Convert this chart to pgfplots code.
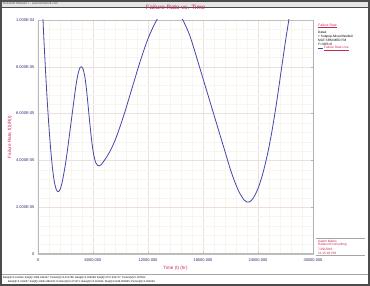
\documentclass[border=0pt]{standalone}
\usepackage{pgfplots}
\pgfplotsset{compat=1.18}
\usepackage{fontspec}
\setmainfont{Liberation Sans}
\definecolor{crim}{RGB}{200,40,80}
\definecolor{curve}{RGB}{70,70,170}
\definecolor{tickc}{RGB}{40,40,110}
\definecolor{gmaj}{RGB}{238,222,222}
\definecolor{gmin}{RGB}{249,245,236}
\newcommand{\fs}[1]{\fontsize{#1}{#1}\selectfont}
\begin{document}
\begin{tikzpicture}
\useasboundingbox (0,0) rectangle (370pt,286pt);
% frame
\fill[white] (0,0) rectangle (370pt,286pt);
\fill[gray!20] (0,279pt) rectangle (370pt,286pt);
\node[anchor=west,inner sep=0pt,text=black!70] at (3pt,282.5pt) {\fs{3}ReliaSoft Weibull++ - www.ReliaSoft.com};
\draw[black!70,line width=0.6pt] (0,279pt) -- (370pt,279pt);
\begin{axis}[
  at={(38pt,32pt)}, anchor=south west,
  scale only axis, width=275pt, height=234pt,
  xmin=0, xmax=30000, ymin=0, ymax=1e-4,
  scaled ticks=false,
  xtick={0,6000,12000,18000,24000,30000},
  xticklabels={0,6000.000,12000.000,18000.000,24000.000,30000.000},
  ytick={0,2e-5,4e-5,6e-5,8e-5,1e-4},
  yticklabels={0,2.000E-05,4.000E-05,6.000E-05,8.000E-05,1.000E-04},
  minor x tick num=4, minor y tick num=4,
  grid=both,
  major grid style={draw=gmaj,line width=0.4pt},
  minor grid style={draw=gmin,line width=0.3pt},
  axis line style={draw=gray!50,line width=0.4pt},
  tick style={draw=gray!60},
  major tick length=1.5pt, minor tick length=0pt,
  tick label style={font=\fs{4},text=tickc},
  xticklabel style={yshift=-1pt},
  title={\fs{6.2}\textcolor{crim}{Failure Rate vs. Time}},
  title style={at={(0.5,1)},anchor=south,yshift=1pt},
  xlabel={\fs{4.6}\textcolor{crim}{Time (t) (hr)}},
  ylabel={\fs{4.6}\textcolor{crim}{Failure Rate, f(t)/R(t)}},
  xlabel style={yshift=2pt},
  ylabel style={yshift=-3pt},
  clip=true,
]
\addplot[curve,line width=0.8pt,smooth,tension=0.5] coordinates {
(380,1.25e-4)(550,1.0e-4)(800,8.0e-5)(1000,6.6e-5)(1200,5.4e-5)(1400,4.4e-5)
(1600,3.6e-5)(1800,3.05e-5)(2000,2.75e-5)(2200,2.66e-5)(2400,2.75e-5)(2600,3.0e-5)
(2800,3.4e-5)(3000,3.85e-5)(3200,4.4e-5)(3400,5.0e-5)(3600,5.6e-5)(3800,6.2e-5)
(4000,6.8e-5)(4200,7.35e-5)(4400,7.75e-5)(4600,7.98e-5)(4750,8.0e-5)(4900,7.93e-5)
(5100,7.6e-5)(5300,7.0e-5)(5500,6.2e-5)(5700,5.4e-5)(5900,4.7e-5)(6100,4.2e-5)
(6300,3.9e-5)(6500,3.79e-5)(6700,3.77e-5)(6900,3.82e-5)(7200,3.98e-5)(7500,4.15e-5)
(8000,4.5e-5)(8500,4.95e-5)(9000,5.5e-5)(9500,6.1e-5)(10000,6.75e-5)(10500,7.4e-5)
(11000,8.05e-5)(11500,8.65e-5)(12000,9.2e-5)(12500,9.65e-5)(13000,1.003e-4)
(13500,1.03e-4)(14000,1.045e-4)(14500,1.05e-4)(15000,1.04e-4)(15500,1.015e-4)
(15800,1.0e-4)(16500,9.4e-5)(17000,8.8e-5)(17500,8.15e-5)(18000,7.5e-5)
(18500,6.85e-5)(19000,6.2e-5)(19500,5.55e-5)(20000,4.9e-5)(20500,4.25e-5)
(21000,3.6e-5)(21500,3.05e-5)(22000,2.6e-5)(22500,2.3e-5)(22800,2.22e-5)
(23100,2.23e-5)(23500,2.4e-5)(24000,2.8e-5)(24500,3.4e-5)(25000,4.2e-5)
(25500,5.2e-5)(26000,6.4e-5)(26500,7.75e-5)(27000,9.1e-5)(27400,1.01e-4)(27700,1.1e-4)
};
\draw[gray!55,line width=1.4pt] (rel axis cs:-0.01,0) -- (rel axis cs:1,0);
\draw[gray!55,line width=1.2pt] (rel axis cs:0,0) -- (rel axis cs:0,1);
\end{axis}
% right panel
\draw[gray!60,line width=0.4pt] (313pt,32pt) -- (313pt,266pt);
\begin{scope}[every node/.style={anchor=west,inner sep=0pt}]
\node[text=crim] at (318pt,260pt) {\fs{3.4}\underline{Failure Rate}};
\node at (318pt,253.5pt) {\fs{3.2}Data1};
\node at (318pt,249.5pt) {\fs{3.2}+ Subpop-Mixed Weibull};
\node at (318pt,245.5pt) {\fs{3.2}MLE SRM MED FM};
\node at (318pt,241.5pt) {\fs{3.2}F=30/S=0};
\draw[curve,line width=0.5pt] (318pt,237.5pt) -- (323pt,237.5pt);
\node[text=crim] at (324pt,237.5pt) {\fs{3.2}\underline{Failure Rate Line}};
\draw[gray!70,line width=0.4pt] (316pt,48pt) -- (365pt,48pt);
\node[text=crim] at (318pt,45pt) {\fs{3.2}Kasim Marks};
\node[text=crim] at (318pt,41pt) {\fs{3.2}Reliasoft Consulting};
\node[text=crim] at (318pt,37pt) {\fs{3.2}7/29/2016};
\node[text=crim] at (318pt,33pt) {\fs{3.2}11:15:46 PM};
\draw[gray!70,line width=0.4pt] (316pt,30.5pt) -- (365pt,30.5pt);
\end{scope}
% bottom status
\draw[gray!70,line width=0.5pt] (0,12pt) -- (370pt,12pt);
\node[anchor=west,inner sep=0pt] at (3pt,8.5pt) {\fs{2.6}Beta[1]=0.412442; Eta[1]=1386.254347; Portion[1]=0.412788; Beta[2]=4.433068; Eta[2]=4707.295717; Portion[2]=0.187552};
\node[anchor=west,inner sep=0pt] at (8pt,4.2pt) {\fs{2.6}Beta[3]=2.314267; Eta[3]=13661.880132; Portion[3]=0.471571; Beta[4]=10.116664; Eta[4]=21229.855865; Portion[4]=0.184039};
\draw[black!70,line width=1.6pt] (0.8pt,0.8pt) rectangle (369.2pt,285.2pt);
\end{tikzpicture}
\end{document}
